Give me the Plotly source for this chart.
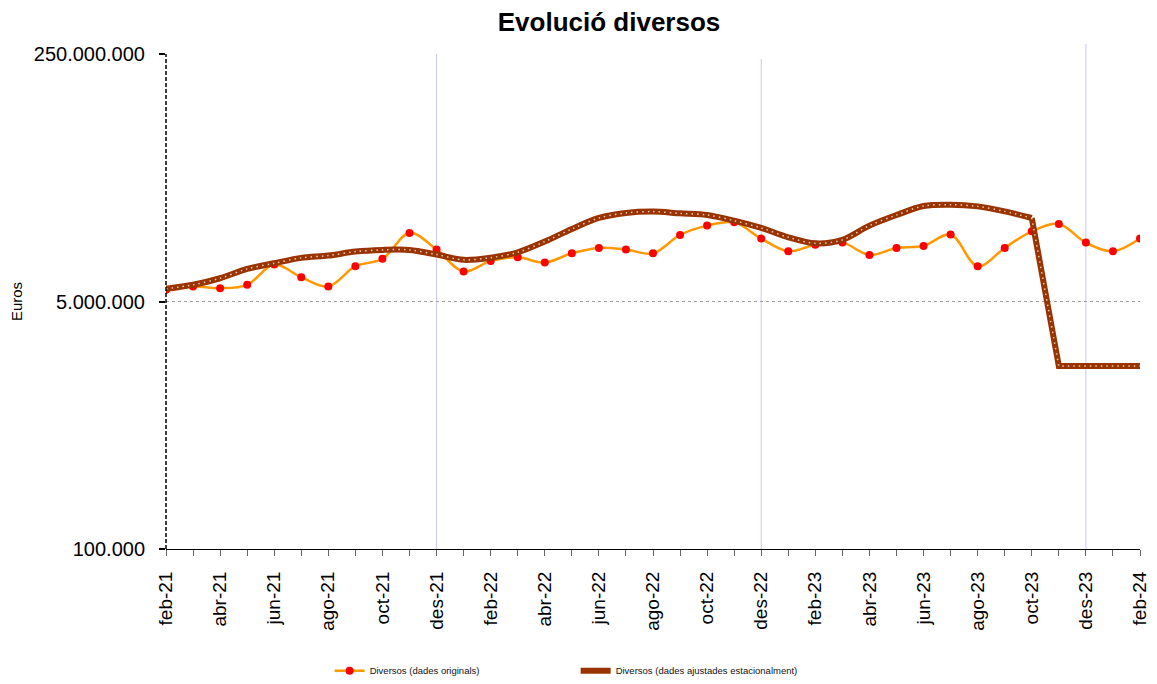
import plotly.graph_objects as go

months = ["feb-21","mar-21","abr-21","mai-21","jun-21","jul-21","ago-21","set-21","oct-21","nov-21","des-21","gen-22",
          "feb-22","mar-22","abr-22","mai-22","jun-22","jul-22","ago-22","set-22","oct-22","nov-22","des-22","gen-23",
          "feb-23","mar-23","abr-23","mai-23","jun-23","jul-23","ago-23","set-23","oct-23","nov-23","des-23","gen-24","feb-24"]

originals = [6.01e6, 6.34e6, 6.17e6, 6.51e6, 8.96e6, 7.34e6, 6.34e6, 8.73e6, 9.81e6, 1.479e7, 1.136e7, 8.03e6,
             9.5e6, 1.005e7, 9.25e6, 1.071e7, 1.166e7, 1.136e7, 1.071e7, 1.432e7, 1.659e7, 1.747e7, 1.351e7, 1.106e7,
             1.228e7, 1.268e7, 1.044e7, 1.166e7, 1.204e7, 1.439e7, 8.73e6, 1.166e7, 1.516e7, 1.704e7, 1.268e7, 1.106e7, 1.351e7]

ajustades = [6.11e6, 6.51e6, 7.22e6, 8.37e6, 9.15e6, 9.96e6, 1.033e7, 1.101e7, 1.13e7, 1.13e7, 1.05e7, 9.66e6,
             1.0e7, 1.088e7, 1.289e7, 1.574e7, 1.872e7, 2.027e7, 2.07e7, 2.014e7, 1.963e7, 1.794e7, 1.599e7, 1.38e7,
             1.254e7, 1.324e7, 1.659e7, 1.963e7, 2.263e7, 2.31e7, 2.249e7, 2.078e7, 1.872e7, 1.802e6, 1.802e6, 1.802e6, 1.802e6]

y_tickvals = [1e5, 5e6, 2.5e8]
y_ticktext = ["100.000", "5.000.000", "250.000.000"]

x = list(range(len(months)))
x_ticktext = [m if i % 2 == 0 else "" for i, m in enumerate(months)]
year_marks = [months.index("des-21"), months.index("des-22"), months.index("des-23")]

FONT = "Arial, Liberation Sans, sans-serif"
BROWN = "#993300"
DOTS = "#E6C9B0"

fig = go.Figure()

fig.add_trace(go.Scatter(
    x=x, y=originals, mode="lines+markers", name="Diversos (dades originals)",
    line=dict(color="#FF9900", width=2.5, shape="spline", smoothing=1.0),
    marker=dict(color="#FF0000", size=8),
))

split = 32  # oct-23: smoothing ends at the break
fig.add_trace(go.Scatter(
    x=x[:split + 1], y=ajustades[:split + 1], mode="lines", name="Diversos (dades ajustades estacionalment)",
    line=dict(color=BROWN, width=6, shape="spline", smoothing=0.9), legendgroup="aj",
))
fig.add_trace(go.Scatter(
    x=x[split:], y=ajustades[split:], mode="lines", showlegend=False,
    line=dict(color=BROWN, width=6), legendgroup="aj",
))
fig.add_trace(go.Scatter(
    x=x[:split + 1], y=ajustades[:split + 1], mode="lines", showlegend=False, hoverinfo="skip",
    line=dict(color=DOTS, width=1.5, dash="1.5px,4px", shape="spline", smoothing=0.9), legendgroup="aj",
))
fig.add_trace(go.Scatter(
    x=x[split:], y=ajustades[split:], mode="lines", showlegend=False, hoverinfo="skip",
    line=dict(color=DOTS, width=1.5, dash="1.5px,4px"), legendgroup="aj",
))

for i, top in zip(year_marks, [1.0, 0.99, 1.02]):
    fig.add_shape(type="line", x0=i, x1=i, xref="x", yref="paper", y0=0, y1=top,
                  line=dict(color="#C8C8F5", width=1), layer="below")

# dashed vertical axis line
fig.add_shape(type="line", x0=0, x1=0, xref="paper", yref="paper", y0=0, y1=1,
              line=dict(color="black", width=1.5, dash="4px,2px"))

W, H = 1149, 676  # page body adds an 8px margin
fig.update_layout(
    width=W, height=H,
    margin=dict(l=158, r=17, t=46, b=135, autoexpand=False),
    paper_bgcolor="white", plot_bgcolor="white",
    font=dict(family=FONT, color="black"),
    title=dict(text="<b>Evolució diversos</b>", x=601 / W, xref="container", y=1 - 14 / H, yref="container",
               xanchor="center", yanchor="middle", automargin=False,
               font=dict(size=26, family=FONT, color="black")),
    showlegend=True,
    legend=dict(orientation="h", x=0.168, xanchor="left", y=-0.246, yanchor="middle",
                font=dict(size=9.5, family=FONT, color="#111"), entrywidth=201, entrywidthmode="pixels",
                bgcolor="rgba(0,0,0,0)"),
)

fig.update_xaxes(
    range=[0, len(months) - 1], tickmode="array", tickvals=x, ticktext=x_ticktext,
    tickangle=-90, tickfont=dict(size=19, family=FONT, color="black"), automargin=False,
    ticklabelstandoff=8,
    showgrid=False, zeroline=False, showline=True, linecolor="black", linewidth=1,
    ticks="outside", ticklen=6, tickcolor="#666", tickwidth=1,
)
fig.update_yaxes(
    type="log", range=[5, 8.39794], tickmode="array", tickvals=y_tickvals, ticktext=y_ticktext,
    tickfont=dict(size=20, family=FONT, color="black"), automargin=False, ticklabelstandoff=10,
    showgrid=True, gridcolor="#A0A0A0", griddash="dot", gridwidth=1,
    zeroline=False, showline=False, ticks="outside", ticklen=6, tickcolor="black", tickwidth=2,
    title=dict(text="Euros", font=dict(size=15, family=FONT, color="black"), standoff=18),
)

fig.write_html("out.html")
